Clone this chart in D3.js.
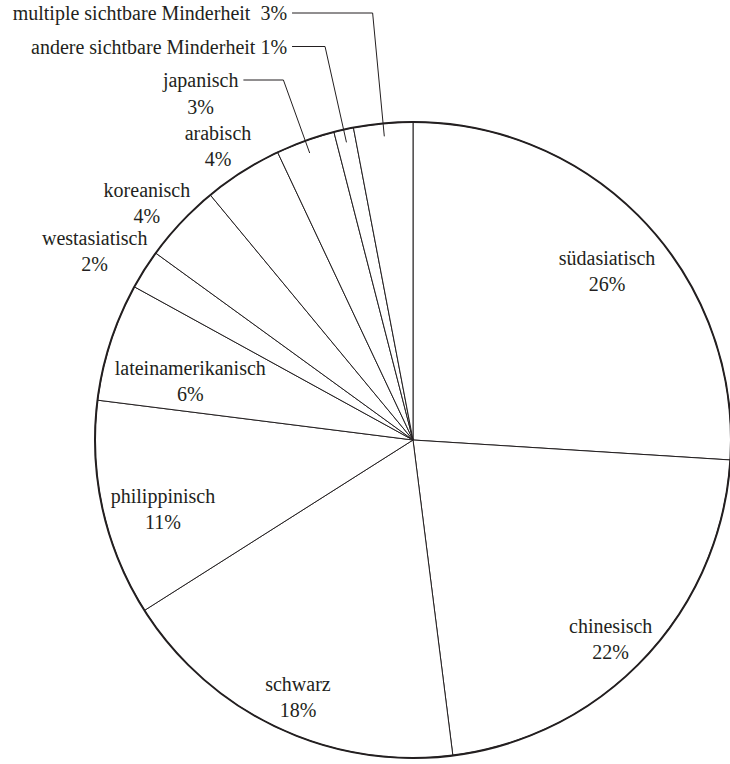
<!DOCTYPE html>
<html>
<head>
<meta charset="utf-8">
<script src="https://cdn.jsdelivr.net/npm/d3@7"></script>
<style>
  body { margin: 0; background: #fff; }
  text { font-family: "Liberation Serif", serif; font-size: 20px; fill: #231f20; white-space: pre; }
</style>
</head>
<body>
<svg id="chart" width="730" height="764"></svg>
<script>
// Anteile sichtbarer Minderheiten (%), im Uhrzeigersinn ab 12 Uhr
const categories = ["südasiatisch", "chinesisch", "schwarz", "philippinisch", "lateinamerikanisch",
    "westasiatisch", "koreanisch", "arabisch", "japanisch",
    "andere sichtbare Minderheit", "multiple sichtbare Minderheit"];
const shares = [26, 22, 18, 11, 6, 2, 4, 4, 3, 1, 3];

const width = 730, height = 764;
const cx = 413, cy = 440, R = 318;
const ink = "#231f20";
const lineGap = 26;

const svg = d3.select("#chart");
const g = svg.append("g").attr("transform", "translate(" + cx + "," + cy + ")");

const data = categories.map((c, i) => ({ name: c, value: shares[i] }));
const pie = d3.pie().sort(null).value(d => d.value);
const arcs = pie(data);
const arc = d3.arc().innerRadius(0).outerRadius(R);

// Segmente
g.selectAll("path.slice")
    .data(arcs)
    .enter().append("path")
    .attr("class", "slice")
    .attr("d", arc)
    .attr("fill", "#fff")
    .attr("stroke", ink)
    .attr("stroke-width", 1);

// Kreis etwas kräftiger
g.append("circle").attr("r", R)
    .attr("fill", "none").attr("stroke", ink).attr("stroke-width", 2);

var pct = d => d3.format("d")(d.value) + "%";
var mid = d => (d.startAngle + d.endAngle) / 2;

// Textbreite messen
var measure = (s) => {
    var t = svg.append("text").text(s);
    var w = t.node().getComputedTextLength();
    t.remove();
    return w;
};

// Rechtecke der beiden Zeilen: Name auf (x, y), Prozent darunter
function boxes(x, y, w1, w2) {
    var h = 16;
    return [
        [x - w1 / 2, y - h / 2, x + w1 / 2, y + h / 2],
        [x - w2 / 2, y + lineGap - h / 2, x + w2 / 2, y + lineGap + h / 2]
    ];
}
function corners(bs) {
    var out = [];
    bs.forEach(b => out.push([b[0], b[1]], [b[2], b[1]], [b[0], b[3]], [b[2], b[3]]));
    return out;
}
var dist = p => Math.sqrt(p[0] * p[0] + p[1] * p[1]);

var labels = g.append("g");
var leaders = [];
var topZone = 22 * Math.PI / 180;   // kleine Segmente nahe 12 Uhr bekommen Führungslinien

arcs.forEach((d, i) => {
    var a = mid(d);
    var w1 = measure(d.data.name), w2 = measure(pct(d.data));
    var pos = null;
    if (d.data.value >= 5) {
        // innen: so weit nach außen wie möglich
        for (var r = R * 0.4; r < R; r++) {
            var x = Math.sin(a) * r, y = -Math.cos(a) * r;
            var c = corners(boxes(x, y, w1, w2));
            if (d3.max(c, dist) > R - 9) break;
            pos = [x, y];
        }
    } else if (a < 2 * Math.PI - topZone) {
        // außen: so nah wie möglich am Kreis
        for (var r = R + 10; r < R + 140; r++) {
            var x = Math.sin(a) * r, y = -Math.cos(a) * r;
            var c = corners(boxes(x, y, w1, w2));
            if (d3.min(c, dist) >= R + 10) { pos = [x, y]; break; }
        }
    }
    if (pos) {
        var t = labels.append("text").attr("text-anchor", "middle");
        t.append("tspan").attr("x", pos[0]).attr("y", pos[1]).attr("dy", "0.35em").text(d.data.name);
        t.append("tspan").attr("x", pos[0]).attr("y", pos[1] + lineGap).attr("dy", "0.35em").text(pct(d.data));
    } else {
        leaders.push(d);
    }
});

// Beschriftungen mit Führungslinien, von oben gestapelt
var rowTop = 13 - cy, rowStep = 33.5;
leaders.reverse().forEach((d, k) => {
    var a = mid(d);
    d.rowY = rowTop + k * rowStep;
    var rk = -d.rowY / Math.cos(a);
    d.knee = [Math.sin(a) * rk, d.rowY];
    d.tip = [Math.sin(a) * (R - 13), -Math.cos(a) * (R - 13)];
    d.single = d.data.name.indexOf(" ") >= 0;
});
var singleEnd = d3.min(leaders.filter(d => d.single), d => d.knee[0] - 38);

leaders.forEach(d => {
    var end;
    if (d.single) {
        end = singleEnd;
        labels.append("text").attr("text-anchor", "end")
            .attr("x", end).attr("y", d.rowY).attr("dy", "0.35em")
            .text(d.data.name + (d.data.value < 2 ? " " : "  ") + pct(d.data));
    } else {
        end = d.knee[0] - 45;
        var w1 = measure(d.data.name);
        var t = labels.append("text").attr("text-anchor", "middle");
        t.append("tspan").attr("x", end - w1 / 2).attr("y", d.rowY).attr("dy", "0.35em").text(d.data.name);
        t.append("tspan").attr("x", end - w1 / 2).attr("y", d.rowY + lineGap + 1).attr("dy", "0.35em").text(pct(d.data));
    }
    labels.append("path")
        .attr("d", d3.line()([[end + 5, d.rowY], d.knee, d.tip]))
        .attr("fill", "none")
        .attr("stroke", ink)
        .attr("stroke-width", 1);
});
</script>
</body>
</html>
